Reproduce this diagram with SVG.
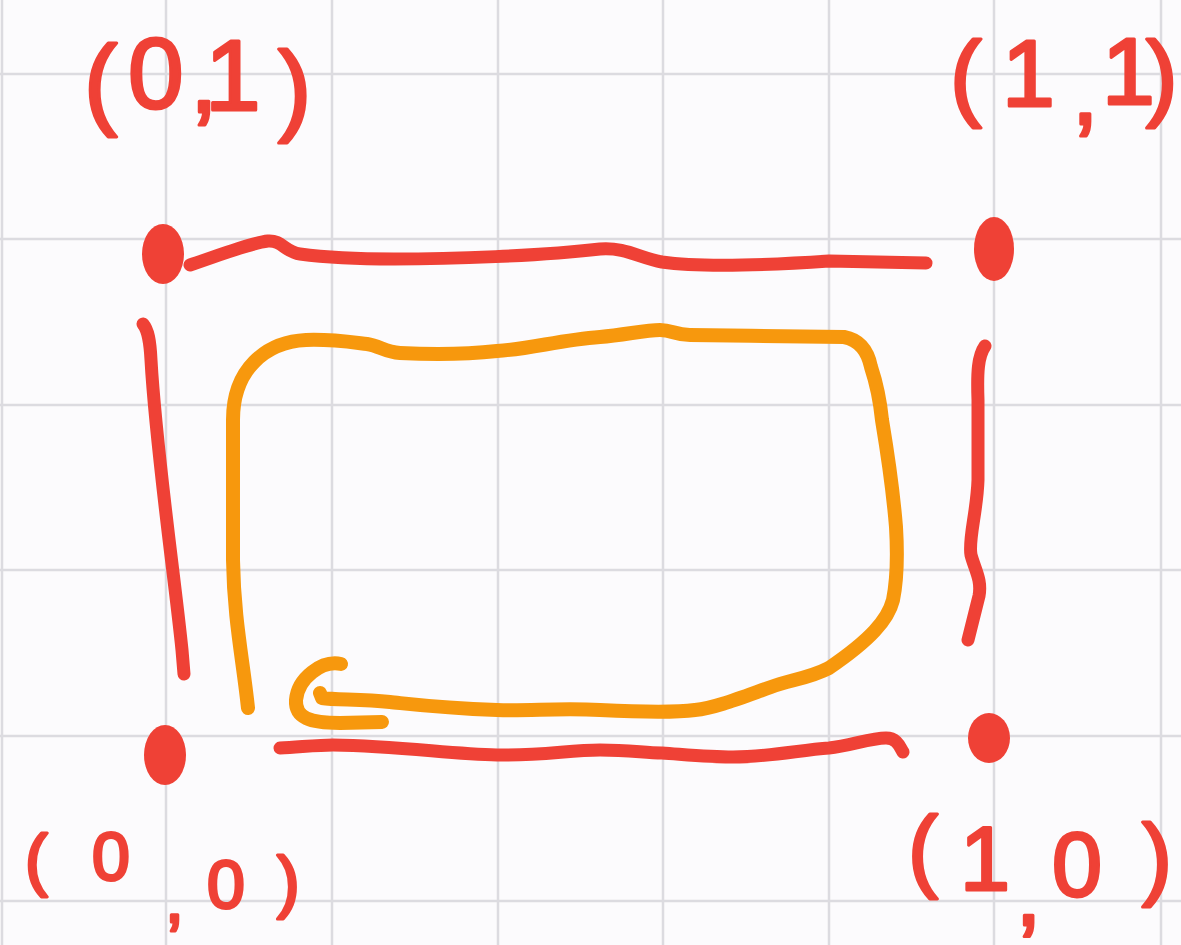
<svg xmlns="http://www.w3.org/2000/svg" width="1181" height="945" viewBox="0 0 1181 945">
  <style>
    .grid line { stroke: #dcdbe0; stroke-width: 2.5; }
    .red { fill: none; stroke: #ef4136; stroke-width: 13; stroke-linecap: round; stroke-linejoin: round; }
    .orange { fill: none; stroke: #f7980d; stroke-width: 14; stroke-linecap: round; stroke-linejoin: round; }
    .dot { fill: #ef4136; }
    .lbl { fill: #ef4136; stroke: #ef4136; stroke-width: 3; stroke-linejoin: round; font-family: "Liberation Sans", Arial, sans-serif; }
  </style>
  <rect width="1181" height="945" fill="#fcfbfd"/>
  <g class="grid" id="grid">
    <line x1="2" y1="0" x2="2" y2="945"/>
    <line x1="166" y1="0" x2="166" y2="945"/>
    <line x1="332" y1="0" x2="332" y2="945"/>
    <line x1="498" y1="0" x2="498" y2="945"/>
    <line x1="663" y1="0" x2="663" y2="945"/>
    <line x1="829" y1="0" x2="829" y2="945"/>
    <line x1="994" y1="0" x2="994" y2="945"/>
    <line x1="1161" y1="0" x2="1161" y2="945"/>
    <line x1="0" y1="74" x2="1181" y2="74"/>
    <line x1="0" y1="239" x2="1181" y2="239"/>
    <line x1="0" y1="405" x2="1181" y2="405"/>
    <line x1="0" y1="570" x2="1181" y2="570"/>
    <line x1="0" y1="736" x2="1181" y2="736"/>
    <line x1="0" y1="901" x2="1181" y2="901"/>
  </g>
  <g id="connectors">
    <path class="red" d="M190 265 C 220 255, 250 243, 268 241 C 282 240, 285 252, 300 254 C 330 258, 360 259, 394 259 C 450 259, 540 256, 600 249 C 625 247, 640 258, 662 262 C 690 266, 740 267, 829 261 L 926 263"/>
    <path class="red" d="M143 324 C 148 330, 150 340, 151 360 C 156 450, 175 580, 182 650 L 184 674"/>
    <path class="red" d="M985 346 C 978 356, 977 372, 978 400 L 978 480 C 977 512, 968 540, 971 555 C 975 570, 982 580, 979 596 L 968 640"/>
    <path class="red" d="M280 748 C 300 747, 318 745, 333 745 C 400 746, 450 754, 497 755 C 540 756, 570 750, 600 750 C 630 750, 645 753, 662 753 C 690 755, 710 757, 733 757 C 770 757, 800 750, 829 748 C 850 746, 870 738, 886 738 C 898 738, 900 748, 903 752"/>
    <path class="orange" d="M248 708 C 243 660, 234 620, 233 560 L 233 420 C 233 370, 265 342, 306 340 C 330 339, 350 342, 367 344 C 380 346, 385 352, 400 353 C 440 355, 470 354, 497 351 C 530 349, 560 340, 600 337 C 625 335, 645 330, 660 330 C 672 330, 675 335, 690 335 C 740 336, 800 336, 844 337 C 860 340, 868 352, 871 367 C 877 385, 880 400, 882 420 C 887 450, 893 490, 896 527 C 898 560, 897 580, 893 600 C 888 620, 870 640, 829 668 C 810 678, 790 680, 771 687 C 740 698, 715 708, 695 710 C 680 712, 660 713, 600 710 C 560 708, 530 711, 497 710 C 440 708, 410 704, 390 702 C 360 699, 335 700, 322 698 L 320 693"/>
    <path class="orange" d="M341 664 C 322 660, 298 678, 296 700 C 295 718, 310 723, 340 723 L 382 722"/>
  </g>
  <g id="node-0-1">
    <ellipse class="dot" cx="163" cy="254" rx="21" ry="30"/>
    <text class="lbl" font-size="100" x="84 128 190 205 278" y="116 108 112 110 122">(0,1)</text>
  </g>
  <g id="node-1-1">
    <ellipse class="dot" cx="994" cy="249" rx="20" ry="32"/>
    <text class="lbl" font-size="95" x="950 1002 1072 1102 1146" y="108 106 124 104 108">(1,1)</text>
  </g>
  <g id="node-0-0">
    <ellipse class="dot" cx="165" cy="755" rx="21" ry="30"/>
    <text class="lbl" font-size="68" x="25 92 165 207 277" y="883 880 922 908 905">(0,0)</text>
  </g>
  <g id="node-1-0">
    <ellipse class="dot" cx="989" cy="738" rx="21" ry="25"/>
    <text class="lbl" font-size="90" x="908 960 1016 1052 1142" y="880 890 925 896 888">(1,0)</text>
  </g>
</svg>
